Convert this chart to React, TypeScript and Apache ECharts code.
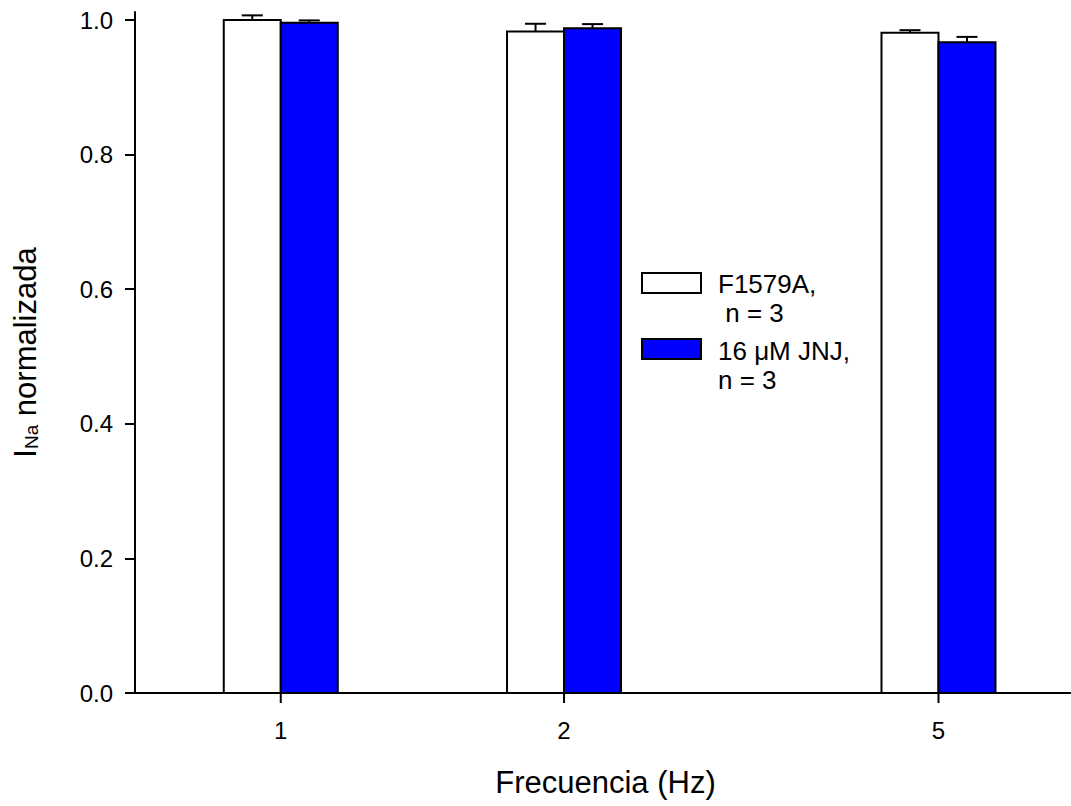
import React, { useEffect, useRef } from 'react';
import * as echarts from 'echarts';

const frequencies = [1, 2, 5];
const freqTickLabels = ['1', '2', '5'];
const yTicks = [0, 0.2, 0.4, 0.6, 0.8, 1.0];
const controlMean = [1.0, 0.983, 0.981];
const controlSem = [0.007, 0.0115, 0.004];
const jnjMean = [0.996, 0.988, 0.967];
const jnjSem = [0.0035, 0.006, 0.008];
const legendLabels = ['F1579A,\n n = 3', '16 \u03bcM JNJ,\nn = 3'];
const seriesColors = ['#ffffff', '#0000ff'];

const FONT = '"Liberation Sans", Arial, sans-serif';

function makeBarSeries(name: string, means: number[], sems: number[], fill: string, side: number) {
  return {
    type: 'custom',
    name,
    clip: false,
    z: 3,
    data: frequencies.map((f, i) => [f, means[i], sems[i]]),
    renderItem: (_params: any, api: any) => {
      const f = api.value(0);
      const m = api.value(1);
      const s = api.value(2);
      const base = api.coord([f, 0]);
      const top = api.coord([f, m]);
      const errTop = api.coord([f, m + s]);
      const w = 57;
      const x0 = side < 0 ? base[0] - w : base[0];
      const cx = x0 + w / 2;
      return {
        type: 'group',
        children: [
          { type: 'line', shape: { x1: cx, y1: top[1], x2: cx, y2: errTop[1] }, style: { stroke: '#000', lineWidth: 2 } },
          { type: 'line', shape: { x1: cx - 10.5, y1: errTop[1], x2: cx + 10.5, y2: errTop[1] }, style: { stroke: '#000', lineWidth: 2 } },
          { type: 'rect', shape: { x: x0, y: top[1], width: w, height: base[1] - top[1] }, style: { fill, stroke: '#000', lineWidth: 2 } },
        ],
      };
    },
  };
}

export default function App() {
  const ref = useRef<HTMLDivElement>(null);
  useEffect(() => {
    document.body.style.margin = '0';
    const chart = echarts.init(ref.current!, null, { renderer: 'svg' });
    chart.setOption({
      animation: false,
      backgroundColor: '#ffffff',
      textStyle: { fontFamily: FONT },
      grid: { left: 135, width: 941, top: 12, height: 681, outerBoundsMode: 'none', containLabel: false },
      xAxis: {
        type: 'log',
        logBase: 10,
        min: 0.7,
        max: 7,
        axisLine: { show: true, lineStyle: { color: '#000', width: 2 } },
        axisTick: { show: false },
        axisLabel: { show: false },
        splitLine: { show: false },
        minorTick: { show: false },
        name: 'Frecuencia (Hz)',
        nameLocation: 'middle',
        nameGap: 74,
        nameTextStyle: { fontSize: 31, color: '#000', fontFamily: FONT },
      },
      yAxis: {
        type: 'value',
        min: 0,
        max: 1.012,
        interval: 0.2,
        axisLine: { show: true, lineStyle: { color: '#000', width: 2 } },
        axisTick: { show: true, length: 10, customValues: yTicks, lineStyle: { color: '#000', width: 2 } },
        axisLabel: {
          customValues: yTicks,
          formatter: (v: number) => v.toFixed(1),
          fontSize: 24,
          color: '#000',
          margin: 22,
          fontFamily: FONT,
        },
        splitLine: { show: false },
        name: '{a|I}{b|Na}{a| normalizada}',
        nameLocation: 'middle',
        nameGap: 94,
        nameTextStyle: {
          color: '#000',
          fontFamily: FONT,
          rich: {
            a: { fontSize: 31, lineHeight: 32, color: '#000', fontFamily: FONT },
            b: { fontSize: 19, lineHeight: 14, verticalAlign: 'bottom', color: '#000', fontFamily: FONT },
          },
        },
      },
      graphic: [
        { type: 'rect', shape: { x: 642, y: 273, width: 59, height: 20 }, style: { fill: seriesColors[0], stroke: '#000', lineWidth: 2 } },
        { type: 'text', x: 718, y: 269.5, style: { text: legendLabels[0], fontSize: 26, lineHeight: 29, fill: '#000', fontFamily: FONT, verticalAlign: 'top' } },
        { type: 'rect', shape: { x: 642, y: 339, width: 59, height: 20 }, style: { fill: seriesColors[1], stroke: '#000', lineWidth: 2 } },
        { type: 'text', x: 718, y: 336.5, style: { text: legendLabels[1], fontSize: 26, lineHeight: 29, fill: '#000', fontFamily: FONT, verticalAlign: 'top' } },
      ],
      series: [
        makeBarSeries('F1579A', controlMean, controlSem, seriesColors[0], -1),
        makeBarSeries('16 \u03bcM JNJ', jnjMean, jnjSem, seriesColors[1], 1),
        {
          type: 'custom',
          name: 'xticks',
          clip: false,
          z: 4,
          data: frequencies.map((f, i) => [f, i]),
          renderItem: (_params: any, api: any) => {
            const f = api.value(0);
            const i = api.value(1);
            const p = api.coord([f, 0]);
            return {
              type: 'group',
              children: [
                { type: 'line', shape: { x1: p[0], y1: p[1], x2: p[0], y2: p[1] + 10 }, style: { stroke: '#000', lineWidth: 2 } },
                {
                  type: 'text',
                  x: p[0],
                  y: p[1] + 37,
                  style: { text: freqTickLabels[i], fontSize: 24, fill: '#000', fontFamily: FONT, align: 'center', verticalAlign: 'middle' },
                },
              ],
            };
          },
        },
      ],
    });
    return () => chart.dispose();
  }, []);
  return <div ref={ref} style={{ width: 1071, height: 806 }} />;
}
